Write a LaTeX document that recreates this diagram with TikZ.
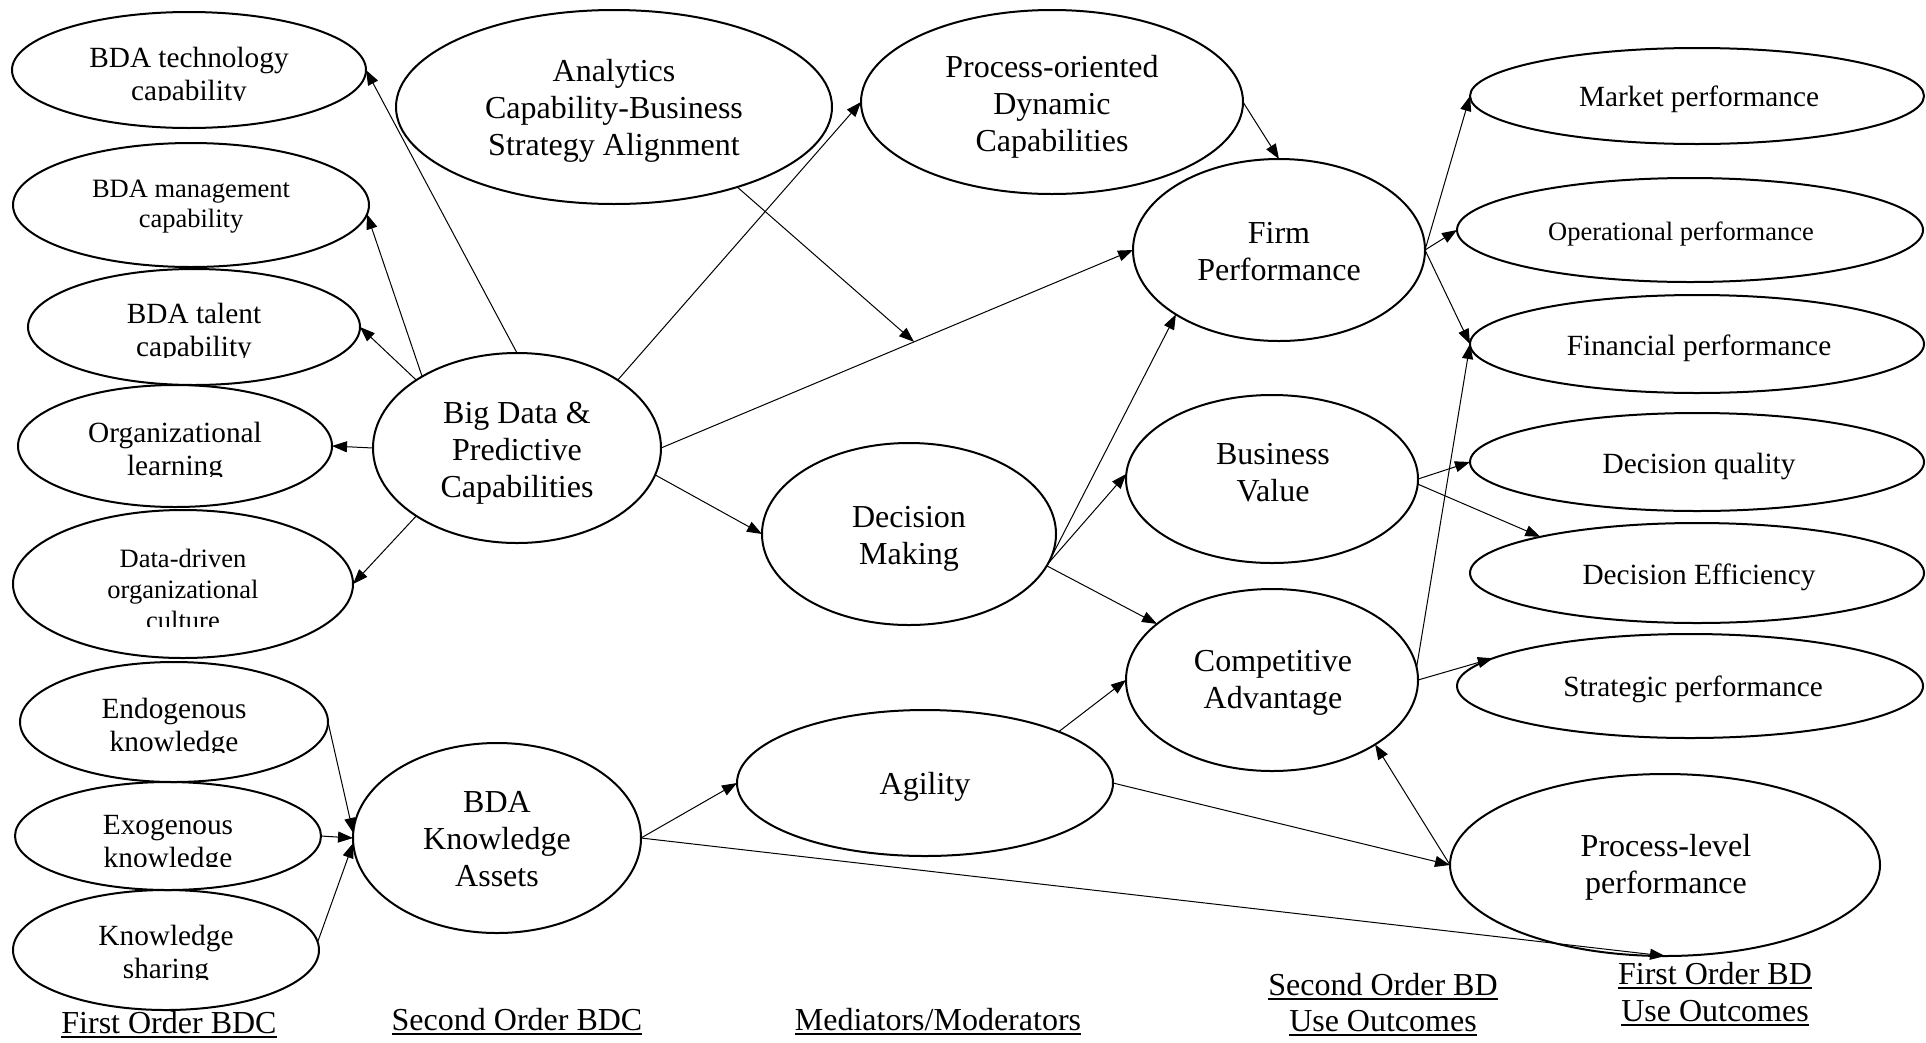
\documentclass[tikz,border=0pt]{standalone}
\usepackage{fontspec}
\setmainfont{Liberation Serif}
\usetikzlibrary{arrows.meta,calc,shapes.geometric}

% centred multi-line text whose baseline is that of its first line
\newcommand\stack[1]{\vtop{\halign{\hfil##\hfil\cr#1\crcr}}}
% underlined caption text
\newcommand\ulabel[1]{\vtop{\hbox{\smash{#1}}\kern3pt\hrule height 1.5pt}}

\begin{document}
\begin{tikzpicture}[x=1pt,y=-1pt,
  oval/.style={ellipse, draw, line width=2pt, inner sep=0pt, outer sep=0pt},
  link/.style={-{Triangle[length=15pt,width=11pt]}, line width=1pt},
  txt/.style={inner sep=0pt, anchor=base},
  big/.style={txt, font=\fontsize{32}{37}\selectfont},
  mid/.style={txt, font=\fontsize{29.3}{33}\selectfont},
  small/.style={txt, font=\fontsize{26.5}{30}\selectfont},
]
\fill[white] (0,0) rectangle (1926,1042);
\useasboundingbox (0,0) rectangle (1926,1042);

% ---------------- ellipses ----------------
% first-order capabilities
\node[oval, minimum width=354, minimum height=116] (tech)   at (189,70)  {};
\node[oval, minimum width=356, minimum height=124] (mgmt)   at (191,205) {};
\node[oval, minimum width=332, minimum height=116] (talent) at (194,327) {};
\node[oval, minimum width=314, minimum height=122] (orgl)   at (175,446) {};
\node[oval, minimum width=340, minimum height=148] (ddc)    at (183,584) {};
\node[oval, minimum width=308, minimum height=120] (endo)   at (174,722) {};
\node[oval, minimum width=306, minimum height=108] (exo)    at (168,836) {};
\node[oval, minimum width=306, minimum height=120] (ks)     at (166,950) {};
% second-order capabilities
\node[oval, minimum width=436, minimum height=194] (align)  at (614,107) {};
\node[oval, minimum width=288, minimum height=190] (bdpc)   at (517,448) {};
\node[oval, minimum width=288, minimum height=190] (bdka)   at (497,838) {};
% mediators / moderators
\node[oval, minimum width=382, minimum height=184] (pdc)    at (1052,102) {};
\node[oval, minimum width=294, minimum height=182] (dm)     at (909,534) {};
\node[oval, minimum width=376, minimum height=146] (agil)   at (925,783) {};
% second-order outcomes
\node[oval, minimum width=292, minimum height=182] (firm)   at (1279,250) {};
\node[oval, minimum width=292, minimum height=168] (bv)     at (1272,479) {};
\node[oval, minimum width=292, minimum height=182] (ca)     at (1272,680) {};
% first-order outcomes
\node[oval, minimum width=454, minimum height=96]  (mkt)    at (1697,96)  {};
\node[oval, minimum width=466, minimum height=104] (ops)    at (1690,230) {};
\node[oval, minimum width=454, minimum height=98]  (fin)    at (1697,344) {};
\node[oval, minimum width=454, minimum height=98]  (dq)     at (1697,462) {};
\node[oval, minimum width=454, minimum height=100] (de)     at (1697,573) {};
\node[oval, minimum width=466, minimum height=104] (strat)  at (1690,686) {};
\node[oval, minimum width=430, minimum height=182] (plp)    at (1665,865) {};

% ---------------- texts ----------------
\begin{scope}
  \clip (12,20) rectangle (366,100);
  \node[mid] (techtxt) at (189,67) {\stack{BDA technology\cr capability}};
\end{scope}
\node[small] (mgmttxt) at (191,197) {\stack{BDA management\cr capability}};
\begin{scope}
  \clip (28,280) rectangle (360,357);
  \node[mid] (talenttxt) at (194,323) {\stack{BDA talent\cr capability}};
\end{scope}
\begin{scope}
  \clip (18,400) rectangle (333,476);
  \node[mid] (orgltxt) at (175,442) {\stack{Organizational\cr learning}};
\end{scope}
\begin{scope}
  \clip (13,520) rectangle (353,626);
  \node[small, font=\fontsize{26.5}{31}\selectfont] (ddctxt) at (183,567)
    {\stack{Data-driven\cr organizational\cr culture}};
\end{scope}
\begin{scope}
  \clip (20,680) rectangle (328,752);
  \node[mid] (endotxt) at (174,718) {\stack{Endogenous\cr knowledge}};
\end{scope}
\begin{scope}
  \clip (16,795) rectangle (321,866);
  \node[mid] (exotxt) at (168,834) {\stack{Exogenous\cr knowledge}};
\end{scope}
\begin{scope}
  \clip (13,905) rectangle (319,979);
  \node[mid] (kstxt) at (166,945) {\stack{Knowledge\cr sharing}};
\end{scope}

\node[big] (aligntxt) at (614,81)  {\stack{Analytics\cr Capability-Business\cr Strategy Alignment}};
\node[big] (bdpctxt)  at (517,423) {\stack{Big Data \&\cr Predictive\cr Capabilities}};
\node[big] (bdkatxt)  at (497,812) {\stack{BDA\cr Knowledge\cr Assets}};
\node[big] (pdctxt)   at (1052,77) {\stack{Process-oriented\cr Dynamic\cr Capabilities}};
\node[big] (dmtxt)    at (909,527) {\stack{Decision\cr Making}};
\node[big] (agiltxt)  at (925,794) {Agility};
\node[big] (firmtxt)  at (1279,243) {\stack{Firm\cr Performance}};
\node[big] (bvtxt)    at (1273,464) {\stack{Business\cr Value}};
\node[big] (catxt)    at (1273,671) {\stack{Competitive\cr Advantage}};
\node[big] (plptxt)   at (1666,856) {\stack{Process-level\cr performance}};

\node[mid]   (mkttxt)   at (1699,106) {Market performance};
\node[small] (opstxt)   at (1681,240) {Operational performance};
\node[mid]   (fintxt)   at (1699,355) {Financial performance};
\node[mid]   (dqtxt)    at (1699,473) {Decision quality};
\node[mid]   (detxt)    at (1699,584) {Decision Efficiency};
\node[mid]   (strattxt) at (1693,696) {Strategic performance};

% column captions
\node[big] (cap1) at (169,1033) {\ulabel{First Order BDC}};
\node[big] (cap2) at (517,1030) {\ulabel{Second Order BDC}};
\node[big] (cap3) at (938,1030) {\ulabel{Mediators/Moderators}};
\node[big, font=\fontsize{32}{36}\selectfont] (cap4) at (1383,995)
  {\stack{\ulabel{Second Order BD}\cr\ulabel{Use Outcomes}}};
\node[big] (cap5) at (1715,984)
  {\stack{\ulabel{First Order BD}\cr\ulabel{Use Outcomes}}};

% ---------------- connectors ----------------
\draw[link] (bdpc.90)  -- (tech.0);
\draw[link] (bdpc.143) -- (mgmt.-3);
\draw[link] (bdpc.146) -- (talent.0);
\draw[link] (bdpc.180) -- (orgl.0);
\draw[link] (bdpc.214) -- (ddc.0);
\draw[link] (bdpc.34)  -- (pdc.180);
\draw[link] (bdpc.0)   -- (firm.180);
\draw[link] (bdpc.-11.5) -- (dm.180);
\coordinate (mod) at ($(bdpc.0)!0.536!(firm.180)$);
\draw[link] (align.-33) -- (mod);
\draw[link] (pdc.0)    -- (firm.90);
\draw[link] (firm.0)   -- (mkt.180);
\draw[link] (firm.0)   -- (ops.180);
\draw[link] (firm.0)   -- (fin.180);
\draw[link] (dm.-12)   -- (firm.212);
\draw[link] (dm.-12)   -- (bv.178);
\draw[link] (dm.-13)   -- (ca.154);
\draw[link] (bv.0)     -- (dq.180);
\draw[link] (bv.-2)    -- (de.167);
\draw[link] (ca.0)     -- (strat.172);
\draw[link] (ca.5)     -- (fin.180);
\draw[link] (agil.21)  -- (ca.180);
\draw[link] (agil.0)   -- (plp.180);
\draw[link] (plp.180)  -- (ca.-32);
\draw[link] (bdka.0)   -- (agil.180);
\draw[link] (bdka.0)   -- (plp.270);
\draw[link] (endo.0)   -- (bdka.178);
\draw[link] (exo.0)    -- (bdka.180);
\draw[link] (ks.3)     -- (bdka.182);
\end{tikzpicture}
\end{document}
